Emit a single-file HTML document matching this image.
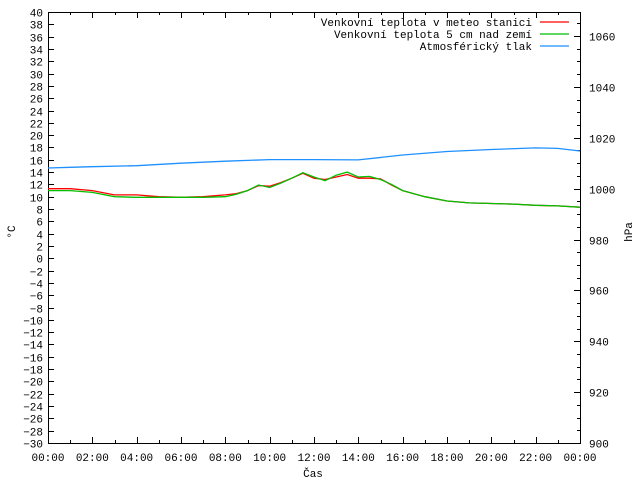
<!DOCTYPE html>
<html><head><meta charset="utf-8"><style>
body{margin:0;background:#fff}
svg text{font-family:"Liberation Mono","DejaVu Sans Mono",monospace;font-size:11px;fill:#000}
</style></head><body>
<svg id="c" width="640" height="480"></svg>
<script>
const hours=[0,1,2,3,4,5,6,7,8,8.5,9,9.5,10,10.5,11,11.5,12,12.5,13,13.5,14,14.5,15,15.5,16,17,18,19,20,21,22,23,24];
const tempStation=[11.3,11.3,11.0,10.3,10.3,10.0,9.9,10.0,10.3,10.5,11.0,11.8,11.7,12.3,13.0,13.8,13.0,12.8,13.2,13.6,13.0,13.0,12.9,11.9,11.0,10.0,9.3,9.0,8.9,8.8,8.6,8.5,8.3];
const tempGround=[11.0,11.0,10.7,10.0,9.9,9.9,9.9,9.9,10.0,10.4,11.0,11.9,11.5,12.2,13.0,13.9,13.2,12.6,13.5,14.0,13.2,13.3,12.8,12.0,11.0,10.0,9.3,9.0,8.9,8.8,8.6,8.5,8.3];
const pHours=[0,1,2,4,6,8,10,12,14,16,18,20,22,23,24];
const pressure=[1008.1,1008.4,1008.6,1009.0,1010.0,1010.8,1011.4,1011.4,1011.3,1013.2,1014.6,1015.4,1016.0,1015.8,1014.8];
const xLabels=["00:00","02:00","04:00","06:00","08:00","10:00","12:00","14:00","16:00","18:00","20:00","22:00","00:00"];
const legendLabels=["Venkovní teplota v meteo stanici","Venkovní teplota 5 cm nad zemí","Atmosférický tlak"];
const L=48,R=580,T=12,B=443;
const x=h=>L+(R-L)*h/24;
const y=t=>T+(40-t)*(B-T)/70;
const yp=p=>B-(p-900)*(B-36)/160;
const svg=document.getElementById('c');const NS='http://www.w3.org/2000/svg';
function el(tag,attrs,parent){const e=document.createElementNS(NS,tag);for(const k in attrs)e.setAttribute(k,attrs[k]);(parent||svg).appendChild(e);return e;}
function line(x1,y1,x2,y2,name){const e=el('line',{x1,y1,x2,y2,stroke:'#000','stroke-width':1});

}
function text(s,tx,ty,anchor,name){const e=el('text',{x:tx,y:ty,'text-anchor':anchor});e.textContent=s;

return e;}
const frame=el('rect',{x:L+0.5,y:T+0.5,width:R-L,height:B-T,fill:'none',stroke:'#000'});


for(let t=-30;t<=40;t+=2){const yy=Math.round(y(t))+0.5;line(L,yy,L+6,yy,'y-tick');text(String(t).replace('-','−'),43,yy+4,'end','y-tick-label');}
for(let p=900;p<=1065;p+=5){const yy=Math.round(yp(p))+0.5;if(yy<T)continue;const len=p%20==0?6:3;line(R-len,yy,R,yy,'y2-tick');if(p%20==0)text(String(p),589,yy+4,'start','y2-tick-label');}
for(let h=0;h<=24;h++){const xx=Math.round(x(h))+0.5;const len=h%2==0?6:3;line(xx,B-len,xx,B,'x-tick');line(xx,T,xx,T+len,'x-tick-top');}
xLabels.forEach((s,i)=>text(s,x(i*2),461,'middle','x-tick-label'));
text('Čas',313,477,'middle','x-axis-title');
const yt=text('°C',15,232,'middle','y-axis-title');yt.setAttribute('transform','rotate(-90 15 232)');
const y2t=text('hPa',632,232,'middle','y2-axis-title');y2t.setAttribute('transform','rotate(-90 632 232)');
function series(hs,vs,f,color,name){const pts=hs.map((h,i)=>x(h).toFixed(1)+','+f(vs[i]).toFixed(1)).join(' ');
const e=el('polyline',{points:pts,fill:'none',stroke:color,'stroke-width':1.3});

}
series(pHours,pressure,yp,'#1e90ff','pressure-line');
series(hours,tempStation,y,'#ff0000','station-temp-line');
series(hours,tempGround,y,'#00c000','ground-temp-line');
const colors=['#ff0000','#00c000','#1e90ff'];
legendLabels.forEach((s,i)=>{const ly=22+i*12;text(s,532,ly+4,'end','legend-entry');
const e=el('line',{x1:540,y1:ly,x2:569,y2:ly,stroke:colors[i],'stroke-width':1.3});

});
</script>
</body></html>
